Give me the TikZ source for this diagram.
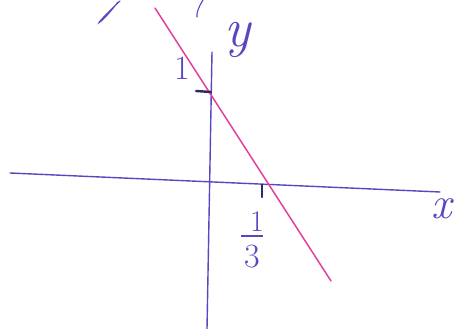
\documentclass[tikz,border=0pt]{standalone}
\usepackage{fontspec}
\usepackage{xcolor}
\usepackage{tikz}
\definecolor{penblue}{HTML}{5B46C0}
\definecolor{penpink}{HTML}{E2409C}
\definecolor{penink}{HTML}{2E2A66}
\usetikzlibrary{positioning, calc}

\begin{document}
\begin{tikzpicture}[x=1pt, y=-1pt,
    axis/.style={draw=penblue, line width=1.4pt, line cap=round},
    graphline/.style={draw=penpink, line width=1.5pt, line cap=round},
    tickmark/.style={draw=penink, line width=2.4pt, line cap=round},
    penlabel/.style={text=penblue, inner sep=0pt}]
    \useasboundingbox (0,0) rectangle (455,329);

    % axes
    \coordinate (xstart) at (10,173);
    \coordinate (xend) at (440,192);
    \coordinate (ystart) at (207,329);
    \coordinate (yend) at (212,52);
    \draw[axis] (xstart) -- (xend);
    \draw[axis] (ystart) -- (yend);

    % the line through (0,1) and (1/3,0)
    \coordinate (ltop) at (155,8);
    \coordinate (lbottom) at (331,281);
    \draw[graphline] (ltop) -- (lbottom);

    % ticks
    \draw[tickmark] (196,91) -- (211,92);
    \draw[tickmark] (262,185) -- (262,197);

    % labels
    \node[penlabel, font=\fontsize{55}{57}\selectfont\itshape] (ylabel) at (238,40) {y};
    \node[penlabel, font=\fontsize{45}{47}\selectfont\itshape] (xlabel) at (442,209) {x};
    \node[penlabel, font=\fontsize{34}{36}\selectfont] (onelabel) at (182,68) {1};
    \node[penlabel, font=\fontsize{30}{32}\selectfont] (thirdnum) at (257,222) {1};
    \node[penlabel, font=\fontsize{34}{36}\selectfont] (thirdden) at (252,257) {3};
    \draw[penblue, line width=1.4pt] ($(thirdnum.south)+(-16,4)$) -- ($(thirdnum.south)+(6,4)$);

    % cut-off writing at the top edge
    \draw[axis, line width=1.1pt] (120,1) .. controls (108,12) and (95,26) .. (100,22)
        .. controls (104,19) and (112,10) .. (118,2);
    \draw[axis, line width=1.1pt] (203,0) .. controls (199,6) and (196,14) .. (197,17);
\end{tikzpicture}
\end{document}
